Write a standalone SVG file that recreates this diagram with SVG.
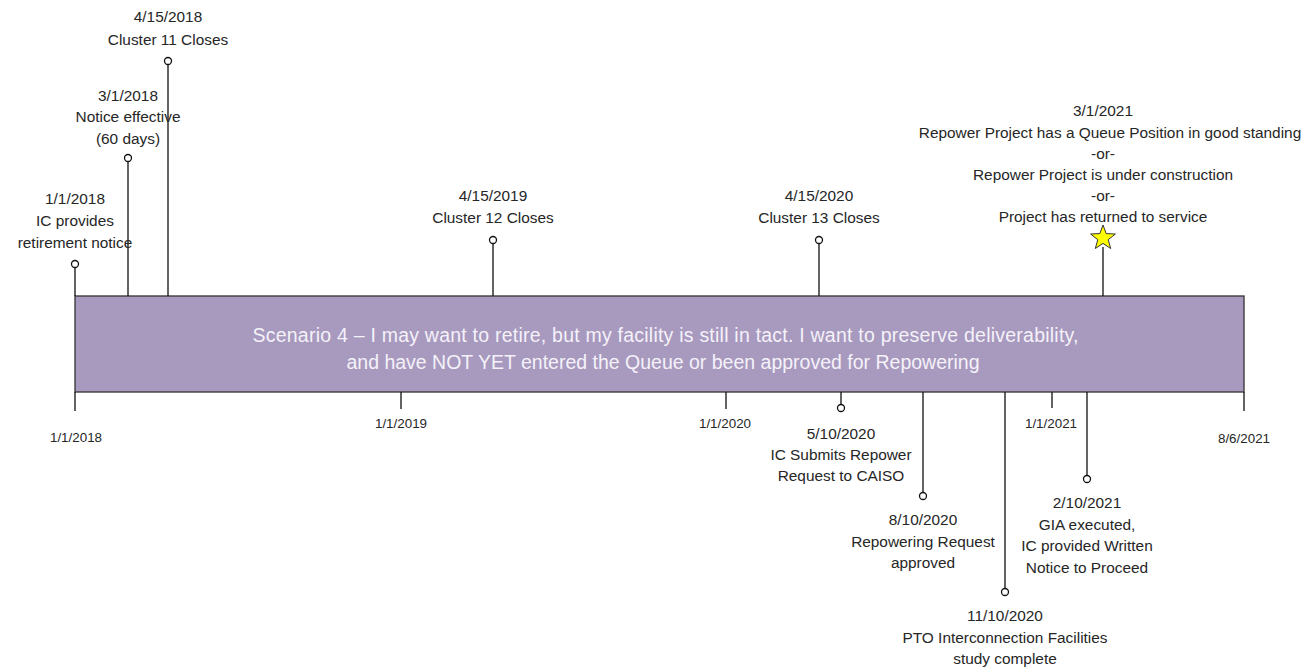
<svg xmlns="http://www.w3.org/2000/svg" width="1308" height="671" viewBox="0 0 1308 671">
<style>
.t{font-family:"Liberation Sans",Arial,sans-serif;font-size:15.4px;fill:#262626;text-anchor:middle}
.s{font-family:"Liberation Sans",Arial,sans-serif;font-size:13.4px;fill:#262626;text-anchor:middle}
.b{font-family:"Liberation Sans",Arial,sans-serif;font-size:19.5px;fill:#f4f2f8;text-anchor:middle}
.ln{stroke:#111;stroke-width:1.3;fill:none}
.dot{fill:#fff;stroke:#111;stroke-width:1.3}
</style>
<rect width="1308" height="671" fill="#fff"/>
<g id="bar">
<rect x="75" y="296" width="1169" height="96" fill="#a899bf" stroke="#333" stroke-width="1.3"/>
<text class="b" x="665.5" y="342" textLength="826" lengthAdjust="spacing">Scenario 4 – I may want to retire, but my facility is still in tact. I want to preserve deliverability,</text>
<text class="b" x="663" y="369">and have NOT YET entered the Queue or been approved for Repowering</text>
</g>
<g id="connectors">
<path class="ln" d="M75 268V296M128 162V296M168 65V296M493 244V296M819 244V296M1103 247V296"/>
<path class="ln" d="M75 392V411M401 392V409M726 392V409M1052 392V408M1244 392V411"/>
<path class="ln" d="M841 392V404.5M923 392V492.5M1005 392V588.5M1087 392V475.5"/>
</g>
<g id="n-2018-01-01">
<circle class="dot" cx="75" cy="264" r="3.5"/>
<text class="t" x="75" y="203.5">1/1/2018</text>
<text class="t" x="75" y="225.5">IC provides</text>
<text class="t" x="75" y="247.5">retirement notice</text>
</g>
<g id="n-2018-03-01">
<circle class="dot" cx="128" cy="158" r="3.5"/>
<text class="t" x="128" y="100.5">3/1/2018</text>
<text class="t" x="128" y="121.5">Notice effective</text>
<text class="t" x="128" y="143.5">(60 days)</text>
</g>
<g id="n-2018-04-15">
<circle class="dot" cx="168" cy="61" r="3.5"/>
<text class="t" x="168" y="21.5">4/15/2018</text>
<text class="t" x="168" y="44.5">Cluster 11 Closes</text>
</g>
<g id="n-2019-04-15">
<circle class="dot" cx="493" cy="240" r="3.5"/>
<text class="t" x="493" y="200.5">4/15/2019</text>
<text class="t" x="493" y="222.5">Cluster 12 Closes</text>
</g>
<g id="n-2020-04-15">
<circle class="dot" cx="819" cy="240" r="3.5"/>
<text class="t" x="819" y="200.5">4/15/2020</text>
<text class="t" x="819" y="222.5">Cluster 13 Closes</text>
</g>
<g id="n-2021-03-01">
<polygon points="1103,225 1106.2,233.6 1115.4,234 1108.2,239.7 1110.7,248.5 1103,243.4 1095.3,248.5 1097.8,239.7 1090.6,234 1099.8,233.6" fill="#ffff00" stroke="#333" stroke-width="1"/>
<text class="t" x="1103" y="115.5">3/1/2021</text>
<text class="t" x="1110" y="137.5">Repower Project has a Queue Position in good standing</text>
<text class="t" x="1103" y="158.5">-or-</text>
<text class="t" x="1103" y="179.5">Repower Project is under construction</text>
<text class="t" x="1103" y="200.5">-or-</text>
<text class="t" x="1103" y="221.5">Project has returned to service</text>
</g>
<g id="ticks">
<text class="s" x="76" y="442">1/1/2018</text>
<text class="s" x="401" y="428">1/1/2019</text>
<text class="s" x="725" y="428">1/1/2020</text>
<text class="s" x="1051" y="428">1/1/2021</text>
<text class="s" x="1244" y="443">8/6/2021</text>
</g>
<g id="n-2020-05-10">
<circle class="dot" cx="841" cy="408" r="3.5"/>
<text class="t" x="841" y="438.5">5/10/2020</text>
<text class="t" x="841" y="459.5">IC Submits Repower</text>
<text class="t" x="841" y="480.5">Request to CAISO</text>
</g>
<g id="n-2020-08-10">
<circle class="dot" cx="923" cy="496" r="3.5"/>
<text class="t" x="923" y="524.5">8/10/2020</text>
<text class="t" x="923" y="546.5">Repowering Request</text>
<text class="t" x="923" y="567.5">approved</text>
</g>
<g id="n-2020-11-10">
<circle class="dot" cx="1005" cy="592" r="3.5"/>
<text class="t" x="1005" y="620.5">11/10/2020</text>
<text class="t" x="1005" y="642.5">PTO Interconnection Facilities</text>
<text class="t" x="1005" y="663.5">study complete</text>
</g>
<g id="n-2021-02-10">
<circle class="dot" cx="1087" cy="479" r="3.5"/>
<text class="t" x="1087" y="507.5">2/10/2021</text>
<text class="t" x="1087" y="529.5">GIA executed,</text>
<text class="t" x="1087" y="550.5">IC provided Written</text>
<text class="t" x="1087" y="572.5">Notice to Proceed</text>
</g>
</svg>
